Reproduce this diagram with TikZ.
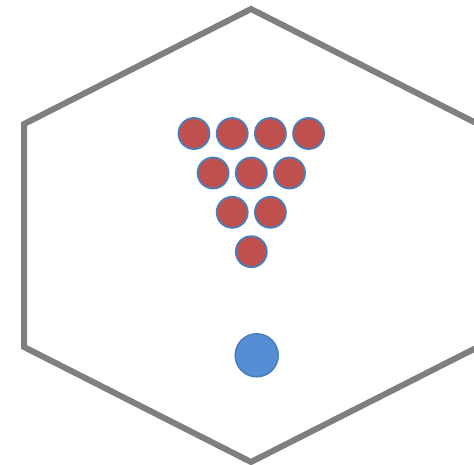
\documentclass[tikz,border=0pt]{standalone}
\definecolor{hexgray}{RGB}{127,127,127}
\definecolor{ballred}{RGB}{192,80,77}
\definecolor{ballblue}{RGB}{85,142,213}
\definecolor{rimblue}{RGB}{74,126,187}
\tikzset{
  pin/.style={circle,draw=rimblue,line width=1.8pt,fill=ballred,minimum size=31pt,inner sep=0pt},
  bowl/.style={circle,draw=rimblue,line width=1.5pt,fill=ballblue,minimum size=43pt,inner sep=0pt},
  hexline/.style={draw=hexgray,line width=6pt,line join=miter}
}
\begin{document}
\begin{tikzpicture}[x=1pt,y=-1pt]
\useasboundingbox (0,0) rectangle (474,465);
\clip (0,0) rectangle (474,465);
\fill[white] (0,0) rectangle (474,465);
\draw[hexline] (251,9) -- (478,124) -- (478,347) -- (251,462) -- (24,347) -- (24,124) -- cycle;
\node[pin] (p1) at (194,133.5) {};
\node[pin] (p2) at (232.2,133.5) {};
\node[pin] (p3) at (270.4,133.5) {};
\node[pin] (p4) at (308.6,133.5) {};
\node[pin] (p5) at (213.1,173) {};
\node[pin] (p6) at (251.3,173) {};
\node[pin] (p7) at (289.5,173) {};
\node[pin] (p8) at (232.2,212.3) {};
\node[pin] (p9) at (270.4,212.3) {};
\node[pin] (p10) at (251.3,251.7) {};
\node[bowl] (ball) at (256.7,355.3) {};
\end{tikzpicture}
\end{document}
